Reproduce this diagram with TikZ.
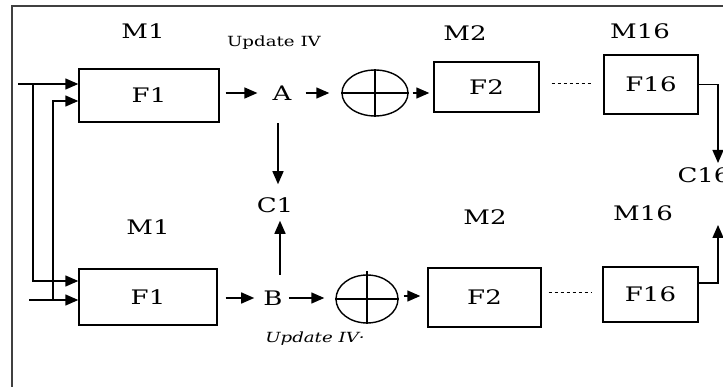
\documentclass[tikz,border=0pt]{standalone}
\usepackage{fontspec}
\setmainfont{DejaVu Serif}[FakeStretch=1.3]
\usetikzlibrary{arrows.meta,shapes.geometric,calc}
\begin{document}
\begin{tikzpicture}[x=1pt,y=-1pt,
  lbl/.style={font=\fontsize{20}{22}\selectfont, inner sep=0pt},
  small/.style={font=\fontsize{14}{16}\selectfont, inner sep=0pt},
  smallit/.style={font=\fontsize{14}{16}\selectfont\itshape, inner sep=0pt},
  fbox/.style={draw, line width=1.4pt, inner sep=0pt, font=\fontsize{20}{22}\selectfont},
  xorop/.style={draw, ellipse, line width=1.4pt, inner sep=0pt},
  arr/.style={line width=1.4pt, -{Triangle[length=13pt,width=11pt]}},
  ln/.style={line width=1.4pt},
  dotline/.style={line width=1pt, dash pattern=on 3pt off 3pt},
  frame/.style={line width=1.6pt, draw=black!75}]
\useasboundingbox (0,0) rectangle (723,387);
\clip (0,0) rectangle (723,387);
% frame
\draw[frame] (12,400) -- (12,6) -- (740,6);
% boxes
\node[fbox, minimum width=140pt, minimum height=53pt] (F1a) at (149,95.5) {F1};
\node[fbox, minimum width=105pt, minimum height=50pt] (F2a) at (486.5,87) {F2};
\node[fbox, minimum width=94pt, minimum height=59pt] (F16a) at (651,84.5) {F16};
\node[fbox, minimum width=138pt, minimum height=56pt] (F1b) at (148,297) {F1};
\node[fbox, minimum width=113pt, minimum height=59pt] (F2b) at (484.5,297.5) {F2};
\node[fbox, minimum width=95pt, minimum height=55pt] (F16b) at (650.5,294.5) {F16};
% xor
\node[xorop, minimum width=66pt, minimum height=46pt] (Xa) at (375,93) {};
\node[xorop, minimum width=62pt, minimum height=48pt] (Xb) at (367,299) {};
\draw[ln] (Xa.north) -- (Xa.south) (Xa.west) -- (Xa.east);
\draw[ln] ([yshift=3pt]Xb.north) -- (Xb.south) (Xb.west) -- (Xb.east);
% labels
\node[lbl] (M1a) at (143,31) {M1};
\node[small] (U1) at (274,43) {Update IV};
\node[lbl] (M2a) at (465,33) {M2};
\node[lbl] (M16a) at (640,31) {M16};
\node[lbl] (A) at (282,93) {A};
\node[lbl] (C1) at (275,205) {C1};
\node[lbl] (C16) at (704,175) {C16};
\node[lbl] (M1b) at (148,227) {M1};
\node[lbl] (M2b) at (485,217) {M2};
\node[lbl] (M16b) at (643,213) {M16};
\node[lbl] (B) at (273,298) {B};
\node[smallit] (U2) at (315,339) {Update IV·};
% inputs
\coordinate (in1) at (18,84);
\coordinate (in2) at (29,300);
\coordinate (j1) at (33,84);
\coordinate (k1) at (33,281);
\coordinate (j2) at (53,300);
\coordinate (k2) at (53,101);
\draw[arr] (in1) -- (in1 -| F1a.west);
\draw[arr] (j1) -- (k1) -- (k1 -| F1b.west);
\draw[arr] (in2) -- (in2 -| F1b.west);
\draw[arr] (j2) -- (k2) -- (k2 -| F1a.west);
% top row
\draw[arr, shorten <=6pt, shorten >=15pt] (F1a.east |- A) -- (A.west);
\draw[arr, shorten <=14pt, shorten >=12pt] (A.east) -- (A.east -| Xa.west);
\draw[arr, shorten <=4pt, shorten >=4pt] (Xa.east) -- (Xa.east -| F2a.west);
\draw[dotline, shorten <=12pt, shorten >=10pt] ([yshift=3pt]F2a.east) -- ([yshift=3pt]F2a.east -| F16a.west);
\coordinate (t16a) at (718,163);
\draw[arr] (F16a.east) -| (t16a);
% bottom row
\draw[arr, shorten <=8pt, shorten >=9pt] (F1b.east |- B) -- (B.west);
\draw[arr, shorten <=6pt, shorten >=11pt] (B.east) -- (B.east -| Xb.west);
\draw[arr, shorten <=5pt, shorten >=7pt] ([yshift=3pt]Xb.east) -- ([yshift=3pt]Xb.east -| F2b.west);
\draw[dotline, shorten <=7pt, shorten >=11pt] ([yshift=5pt]F2b.east) -- ([yshift=5pt]F2b.east -| F16b.west);
\coordinate (t16b) at (718,225);
\draw[arr] ([yshift=11.5pt]F16b.east) -| (t16b);
% to C1
\draw[arr, shorten <=23pt] ([xshift=3pt]C1.north |- A.south) -- ([xshift=3pt,yshift=13pt]C1.north);
\draw[arr, shorten <=16pt] ([xshift=5pt]C1.south |- B.north) -- ([xshift=5pt,yshift=-8pt]C1.south);
\end{tikzpicture}
\end{document}
